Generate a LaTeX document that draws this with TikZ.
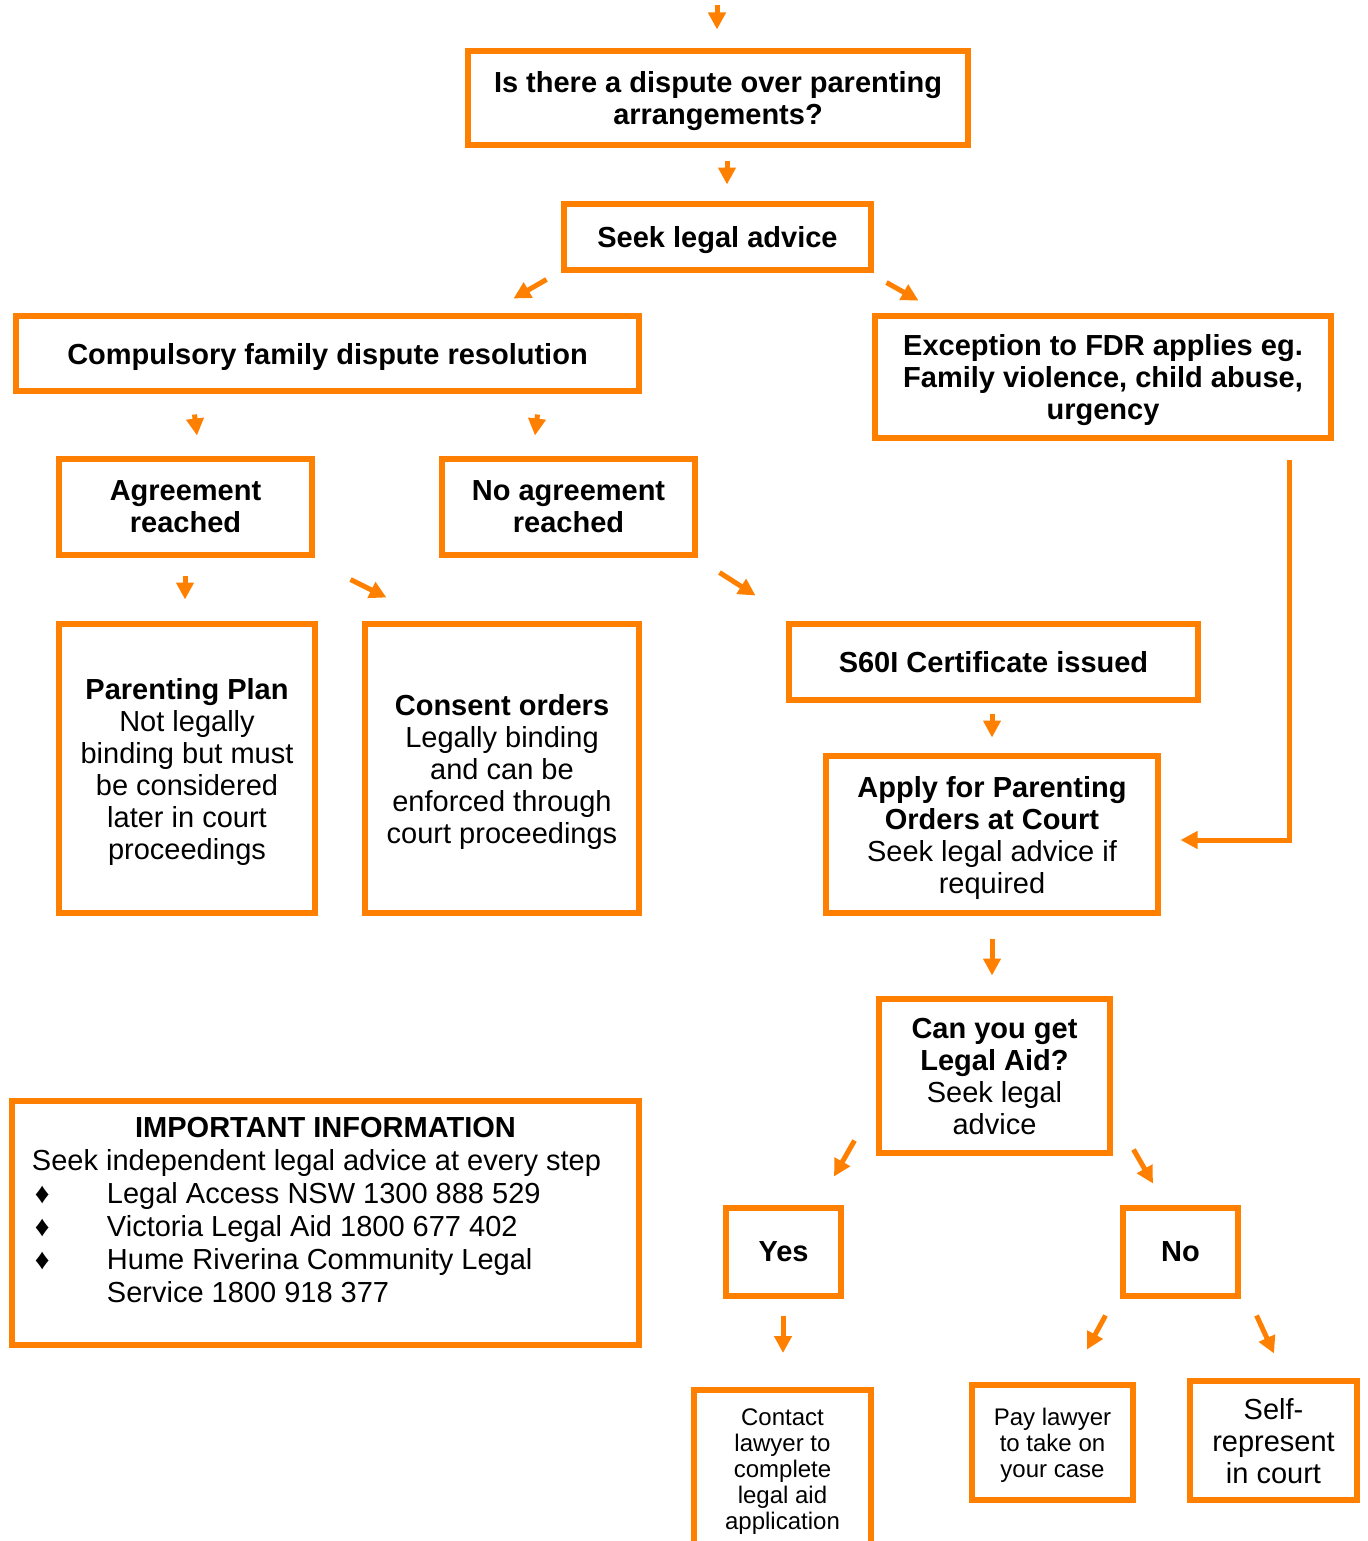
\documentclass[tikz,border=0pt]{standalone}
\usepackage{fontspec}
\setmainfont{Liberation Sans}
\usetikzlibrary{arrows.meta}
\definecolor{fdrorange}{RGB}{255,128,0}
\newcommand{\infobullet}{\makebox[37.5pt][l]{\hspace{1.5pt}♦}}

\begin{document}
\begin{tikzpicture}[x=0.5pt,y=-0.5pt,
every node/.style={font=\fontsize{14.5}{16}\selectfont},
fcbox/.style 2 args={draw=fdrorange,line width=3pt,align=center,inner sep=0pt,
  minimum width=#1*0.5pt,minimum height=#2*0.5pt,text depth=0pt},
boldtxt/.style={font=\fontsize{14.5}{16}\selectfont\bfseries},
smalltxt/.style={font=\fontsize{12}{13}\selectfont},
arr/.style={draw=fdrorange,line width=2.5pt,-{Triangle[width=8.5pt,length=8.5pt]}}]
\useasboundingbox (0,0) rectangle (1367,1541);
\clip (0,0) rectangle (1367,1541);

%boxes of the flow
\node[fcbox={500}{94},boldtxt] (dispute) at (718,98) {Is there a dispute over parenting\\arrangements?};
\node[fcbox={307}{66},boldtxt] (seek) at (717.5,237) {Seek legal advice};
\node[fcbox={623}{75},boldtxt] (comp) at (327.5,353.5) {Compulsory family dispute resolution};
\node[fcbox={456}{122},boldtxt] (exc) at (1103,377) {Exception to FDR applies eg.\\Family violence, child abuse,\\urgency};
\node[fcbox={253}{96},boldtxt] (agr) at (185.5,507) {Agreement\\reached};
\node[fcbox={253}{96},boldtxt] (noagr) at (568.5,507) {No agreement\\reached};
\node[fcbox={256}{289}] (plan) at (187,768.5) {\textbf{Parenting Plan}\\Not legally\\binding but must\\be considered\\later in court\\proceedings};
\node[fcbox={274}{289}] (consent) at (502,768.5) {\textbf{Consent orders}\\Legally binding\\and can be\\enforced through\\court proceedings};
\node[fcbox={409}{76},boldtxt] (s60) at (993.5,662) {S60I Certificate issued};
\node[fcbox={332}{157}] (apply) at (992,834.5) {\textbf{Apply for Parenting}\\\textbf{Orders at Court}\\Seek legal advice if\\required};
\node[fcbox={231}{154}] (legalaid) at (994.5,1076) {\textbf{Can you get}\\\textbf{Legal Aid?}\\Seek legal\\advice};
\node[fcbox={115}{88},boldtxt] (yes) at (783.5,1252) {Yes};
\node[fcbox={115}{88},boldtxt] (no) at (1180.5,1252) {No};
\node[fcbox={177}{160},smalltxt] (contact) at (782.5,1469.5) {Contact\\lawyer to\\complete\\legal aid\\application};
\node[fcbox={161}{115},smalltxt] (pay) at (1052.5,1442.5) {Pay lawyer\\to take on\\your case};
\node[fcbox={167}{119}] (self) at (1273.5,1440.5) {Self-\\represent\\in court};

%info box
\node[fcbox={627}{244},text depth=] (info) at (325.5,1223) {\parbox[c][106pt][t]{293.5pt}{\fontsize{14.5}{16.5}\selectfont
  {\centering\bfseries IMPORTANT INFORMATION\par}
  \raggedright Seek independent legal advice at every step\par
  \infobullet Legal Access NSW 1300 888 529\par
  \infobullet Victoria Legal Aid 1800 677 402\par
  \infobullet Hume Riverina Community Legal\\\hspace*{37.5pt}Service 1800 918 377\par}};

%arrows between the boxes
\coordinate (entry) at (717,5);
\draw[arr] (entry) -- ([shift={(-1,-18.5)}]dispute.north);
\draw[arr] ([shift={(9,12.5)}]dispute.south) -- ([shift={(9.5,-16.5)}]seek.north);
\draw[arr] ([shift={(-14.5,6.5)}]seek.south west) -- ([shift={(-128.5,-14.5)}]comp.north east);
\draw[arr] ([shift={(12.5,9.5)}]seek.south east) -- ([shift={(46.5,-12.5)}]exc.north west);
\draw[arr] ([shift={(181.5,20.5)}]comp.south west) -- ([shift={(11.5,-20.5)}]agr.north);
\draw[arr] ([shift={(-104.5,20.5)}]comp.south east) -- ([shift={(-33.5,-20.5)}]noagr.north);
\draw[arr] ([shift={(-0.5,17.5)}]agr.south) -- ([shift={(-2,-21.5)}]plan.north);
\draw[arr] ([shift={(35.5,21.5)}]agr.south east) -- ([shift={(24.5,-23.5)}]consent.north west);
\draw[arr] ([shift={(21.5,14.5)}]noagr.south east) -- ([shift={(-30.5,-25.5)}]s60.north west);
\draw[arr] ([shift={(-1.5,10.5)}]s60.south) -- ([shift={(0,-15.5)}]apply.north);
\draw[arr] ([shift={(-44.5,18.5)}]exc.south east) |- ([shift={(19.5,5.5)}]apply.east);
\draw[arr] ([shift={(0,22.5)}]apply.south) -- ([shift={(-2.5,-20.5)}]legalaid.north);
\draw[arr] ([shift={(-21.5,-15.5)}]legalaid.south west) -- ([shift={(50.5,-28.5)}]yes.north);
\draw[arr] ([shift={(20.5,-6.5)}]legalaid.south east) -- ([shift={(-27.5,-21.5)}]no.north);
\draw[arr] ([shift={(-0.5,16.5)}]yes.south) -- ([shift={(0.5,-33.5)}]contact.north);
\draw[arr] ([shift={(-14.5,16.5)}]no.south west) -- ([shift={(34.5,-32.5)}]pay.north);
\draw[arr] ([shift={(15.5,16.5)}]no.south east) -- ([shift={(0.5,-24.5)}]self.north);
\end{tikzpicture}
\end{document}
